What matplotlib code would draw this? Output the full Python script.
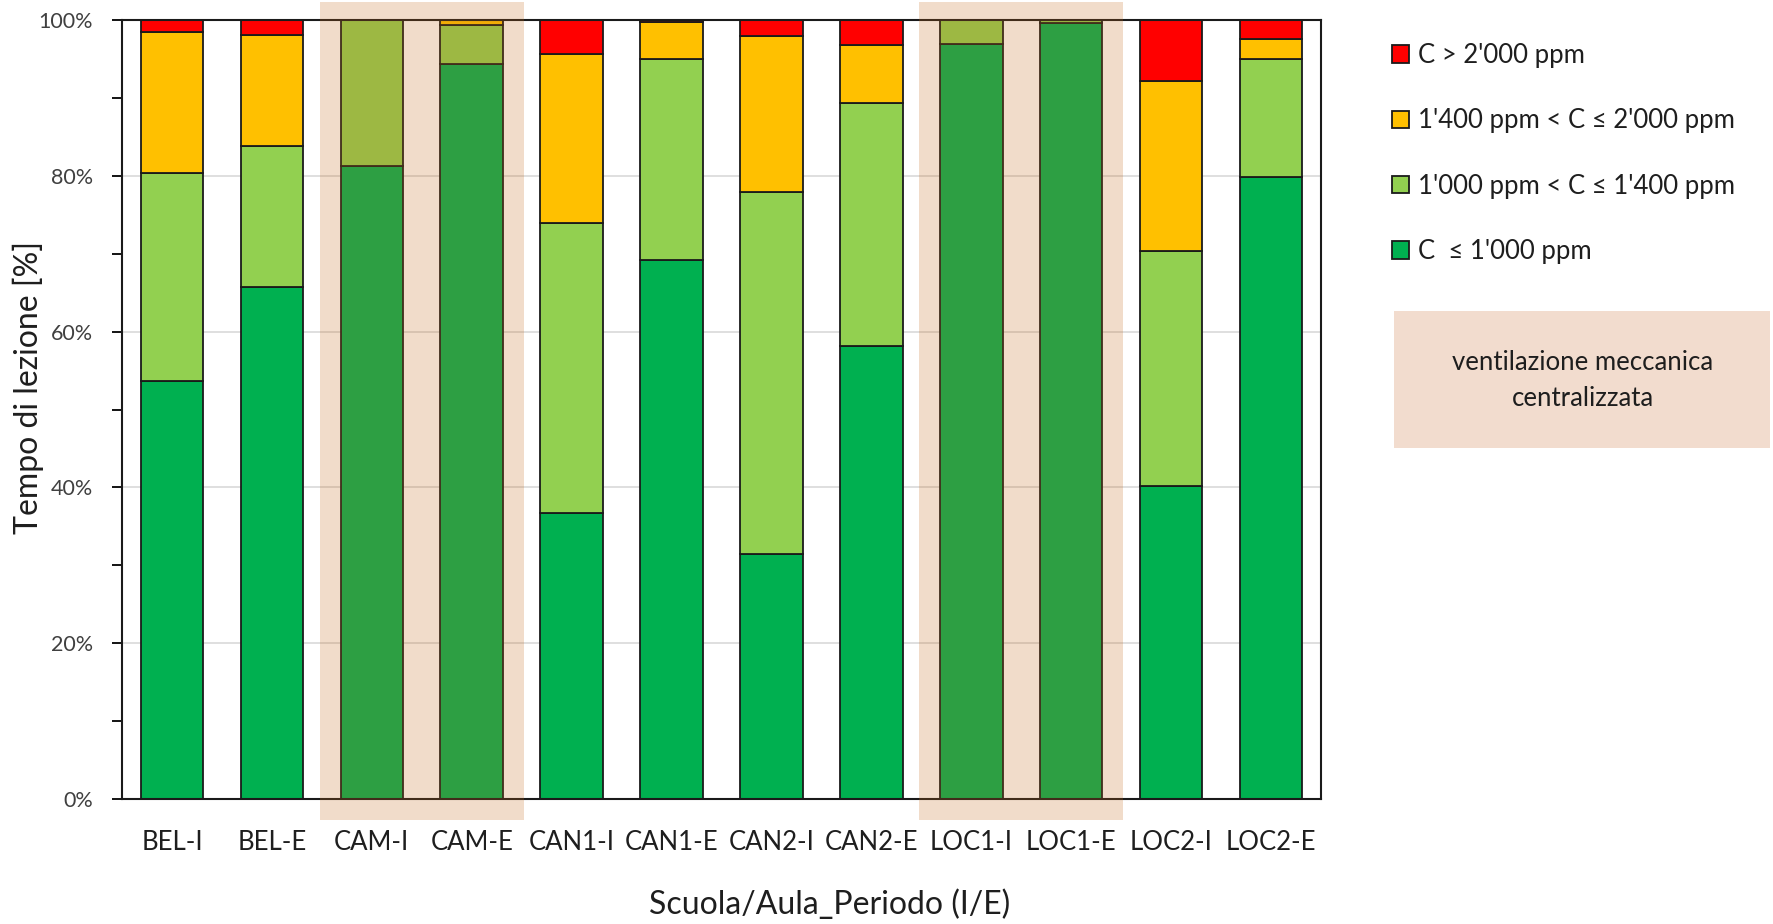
import numpy as np
import matplotlib
matplotlib.use("Agg")
import matplotlib.pyplot as plt
from matplotlib.patches import Rectangle
from matplotlib.ticker import MultipleLocator, PercentFormatter

# ----------------------------------------------------------
# dati (percentuale del tempo di lezione per classe di CO2)
# ----------------------------------------------------------
aule = ["BEL-I", "BEL-E", "CAM-I", "CAM-E", "CAN1-I", "CAN1-E",
        "CAN2-I", "CAN2-E", "LOC1-I", "LOC1-E", "LOC2-I", "LOC2-E"]

c_sotto_1000 = [53.7, 65.7, 81.3, 94.3, 36.7, 69.2, 31.4, 58.1, 96.9, 99.6, 40.2, 79.8]
c_1000_1400 = [26.7, 18.1, 18.7, 5.1, 37.2, 25.8, 46.5, 31.2, 3.1, 0.4, 30.2, 15.2]
c_1400_2000 = [18.1, 14.3, 0.0, 0.6, 21.7, 4.8, 20.0, 7.5, 0.0, 0.0, 21.8, 2.6]
c_sopra_2000 = [1.5, 1.9, 0.0, 0.0, 4.4, 0.2, 2.1, 3.2, 0.0, 0.0, 7.8, 2.4]

etichette = ["C  \u2264 1'000 ppm",
             "1'000 ppm < C \u2264 1'400 ppm",
             "1'400 ppm < C \u2264 2'000 ppm",
             "C > 2'000 ppm"]
colori = ["#00B050", "#92D050", "#FFC000", "#FF0000"]

# aule con ventilazione meccanica centralizzata
ventilazione = [("CAM-I", "CAM-E"), ("LOC1-I", "LOC1-E")]

# ----------------------------------------------------------
# grafico
# ----------------------------------------------------------
plt.rcParams["font.family"] = ["Lato", "DejaVu Sans"]
testo = "#1e1e1e"

fig = plt.figure(figsize=(17.73, 9.24), dpi=100)
ax = fig.add_axes([122 / 1773, 1 - 799 / 924, 1199 / 1773, 779 / 924])

x = np.arange(len(aule))
serie = [c_sotto_1000, c_1000_1400, c_1400_2000, c_sopra_2000]
base = np.zeros(len(aule))
barre = []
for valori, col, lab in zip(serie, colori, etichette):
    b = ax.bar(x, valori, width=0.625, bottom=base, color=col,
               edgecolor="#1a1a1a", linewidth=1.3, label=lab, zorder=2)
    barre.append(b)
    base = base + np.array(valori)

# fasce trasparenti sulle aule ventilate
for primo, ultimo in ventilazione:
    i0 = aule.index(primo)
    i1 = aule.index(ultimo)
    r = Rectangle((i0 - 0.52, -2.7), (i1 - i0) + 1.04, 105.0,
                  facecolor=(195 / 255, 106 / 255, 27 / 255), alpha=0.23,
                  edgecolor="none", clip_on=False, zorder=5)
    ax.add_patch(r)

ax.set_xlim(-0.5, len(aule) - 0.5)
ax.set_ylim(0, 100)
ax.yaxis.set_major_locator(MultipleLocator(20))
ax.yaxis.set_minor_locator(MultipleLocator(10))
ax.yaxis.set_major_formatter(PercentFormatter(decimals=0))
ax.grid(axis="y", which="major", color="#D9D9D9", linewidth=1.2, zorder=0)
ax.set_axisbelow(True)

ax.set_xticks(x)
ax.set_xticklabels(aule, fontsize=18.5, color=testo)
ax.tick_params(axis="x", length=0, pad=22)
ax.tick_params(axis="y", which="major", direction="out", length=7, width=1.3,
               labelsize=15.5, labelcolor="#404040", pad=14)
ax.tick_params(axis="y", which="minor", direction="out", length=7, width=1.3)

for s in ax.spines.values():
    s.set_color("#1a1a1a")
    s.set_linewidth(1.5)

fig.text(28 / 1773, 1 - 387 / 924, "Tempo di lezione [%]", rotation=90,
         ha="center", va="center", fontsize=23, color=testo)
fig.text(830 / 1773, 1 - 905 / 924, "Scuola/Aula_Periodo (I/E)",
         ha="center", va="center", fontsize=23, color=testo)

# legenda (ordine inverso: rosso in alto)
leg = fig.legend(barre[::-1], etichette[::-1], loc="upper left",
                 bbox_to_anchor=(1392 / 1773, 1 - 43 / 924),
                 frameon=False, fontsize=18.5, handlelength=0.65,
                 handleheight=0.65, handletextpad=0.35, labelspacing=1.57,
                 borderpad=0, borderaxespad=0)
for t in leg.get_texts():
    t.set_color(testo)

# riquadro esplicativo
fig.patches.append(Rectangle((1394 / 1773, 1 - 448 / 924), 376 / 1773, 137 / 924,
                             transform=fig.transFigure, facecolor="#F2DCCE",
                             edgecolor="none", zorder=0))
fig.text(1583 / 1773, 1 - 380 / 924, "ventilazione meccanica\ncentralizzata",
         ha="center", va="center", fontsize=18.5, color=testo, linespacing=1.55)

fig.savefig("out.png", dpi=100)
